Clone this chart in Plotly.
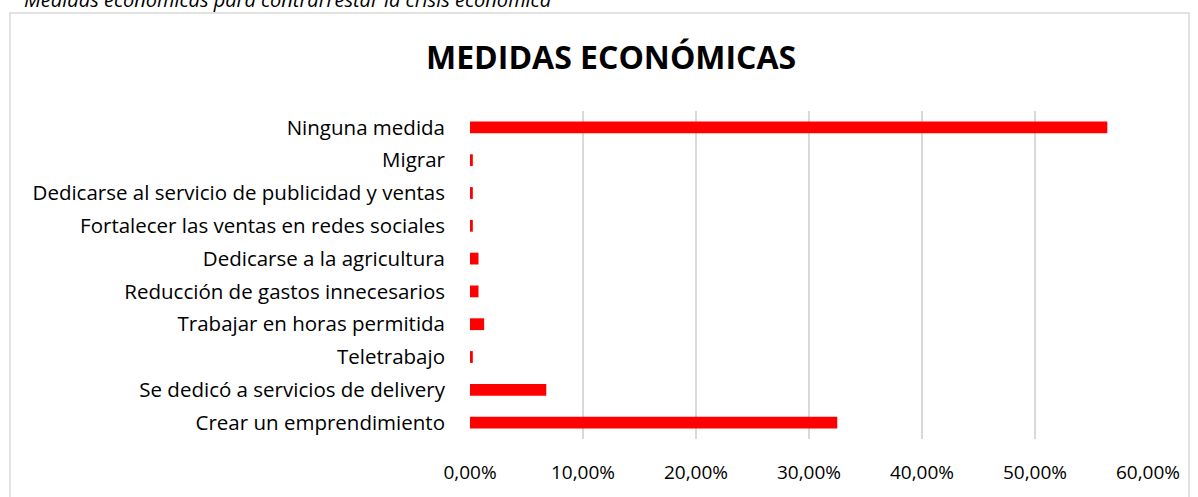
import plotly.graph_objects as go

categories = [
    "Crear un emprendimiento",
    "Se dedicó a servicios de delivery",
    "Teletrabajo",
    "Trabajar en horas permitida",
    "Reducción de gastos innecesarios",
    "Dedicarse a la agricultura",
    "Fortalecer las ventas en redes sociales",
    "Dedicarse al servicio de publicidad y ventas",
    "Migrar",
    "Ninguna medida",
]
values = [0.325, 0.0675, 0.0025, 0.0125, 0.0075, 0.0075, 0.0025, 0.0025, 0.0025, 0.564]
x_ticks = [0, 0.1, 0.2, 0.3, 0.4, 0.5, 0.6]

W, H = 1198, 497
L, R, T, B = 470, 50, 111, 55
pw, ph = W - L - R, H - T - B

def px(xp):
    return (xp - L) / pw

def py(yp):
    return (H - B - yp) / ph

fig = go.Figure(go.Bar(
    x=values, y=categories, orientation="h",
    marker=dict(color="#FF0000", line=dict(width=0)),
    width=0.36,
))

font_family = "Open Sans, Noto Sans, sans-serif"

fig.update_layout(
    width=W, height=H,
    margin=dict(l=L, r=R, t=T, b=B),
    paper_bgcolor="white", plot_bgcolor="white",
    separators=",.",
    showlegend=False,
    font=dict(family=font_family, color="#000000", size=20),
    xaxis=dict(
        range=[0, 0.6], tickvals=x_ticks, tickformat=".2%",
        showgrid=True, gridcolor="#d9d9d9", gridwidth=1.5,
        zeroline=False, showline=False,
        ticklabelstandoff=20, tickfont=dict(size=19, family=font_family),
    ),
    yaxis=dict(
        showgrid=False, zeroline=False, showline=False,
        ticklabelstandoff=24, tickfont=dict(size=20.5, family=font_family),
        range=[-0.5, 9.5],
    ),
    shapes=[dict(
        type="rect", xref="paper", yref="paper",
        x0=px(10), x1=px(1189), y0=py(505), y1=py(12),
        line=dict(color="#d9d9d9", width=1.5), fillcolor="rgba(0,0,0,0)",
        layer="below",
    )],
    annotations=[
        dict(text="<b>MEDIDAS ECONÓMICAS</b>", xref="paper", yref="paper",
             x=px(611), y=py(56), showarrow=False,
             xanchor="center", yanchor="middle",
             font=dict(size=32, family=font_family, color="#000000")),
        dict(text="<i>Medidas económicas para contrarrestar la crisis económica</i>",
             xref="paper", yref="paper", x=px(22), y=py(-2),
             showarrow=False, xanchor="left", yanchor="middle",
             font=dict(size=20, family=font_family, color="#000000")),
    ],
)

fig.write_html("out.html", config={"displayModeBar": False},
               post_script="document.body.style.margin='0px';")
